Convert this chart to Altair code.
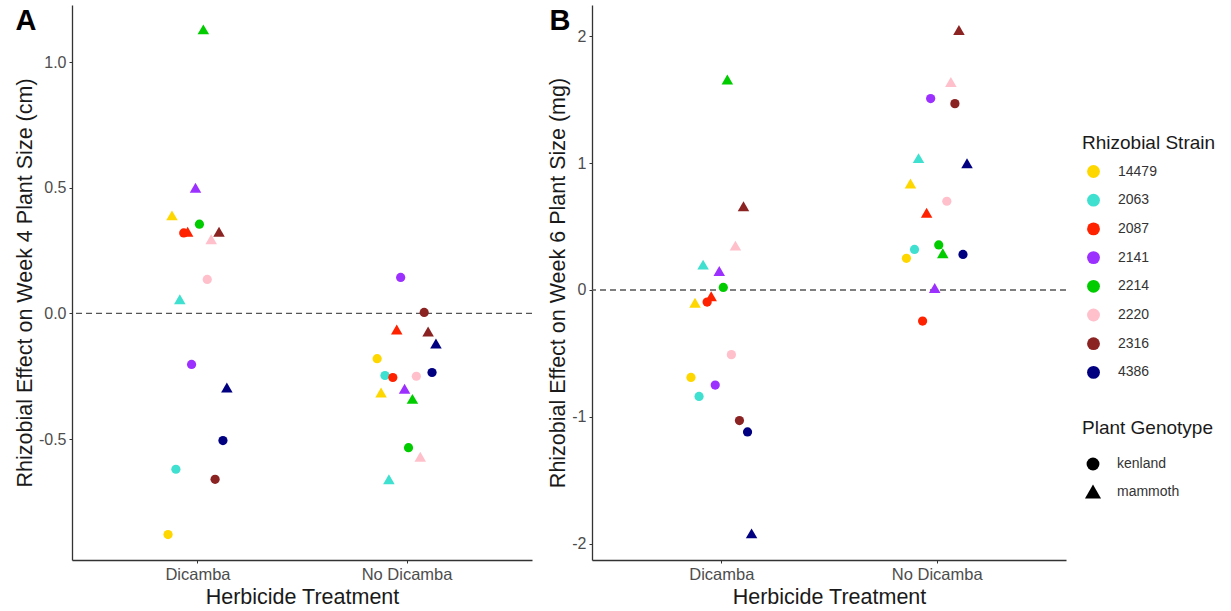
import altair as alt
import pandas as pd

# Rhizobial strains and plant genotypes
strains = ["14479", "2063", "2087", "2141", "2214", "2220", "2316", "4386"]
strain_colors = ["#FFD700", "#40E0D0", "#FF2200", "#9B30FF", "#00CC00", "#FFC0CB", "#8B2323", "#000080"]
genotypes = ["kenland", "mammoth"]
treatments = ["Dicamba", "No Dicamba"]

# Week 4 plant size effect (cm), values in strain order
w4_dicamba_kenland = [-0.88, -0.62, 0.32, -0.203, 0.355, 0.135, -0.66, -0.506]
w4_dicamba_mammoth = [0.39, 0.056, 0.325, 0.50, 1.13, 0.295, 0.325, -0.295]
w4_nodicamba_kenland = [-0.18, -0.247, -0.255, 0.143, -0.534, -0.25, 0.004, -0.235]
w4_nodicamba_mammoth = [-0.315, -0.66, -0.064, -0.30, -0.34, -0.57, -0.072, -0.12]

# Week 6 plant size effect (mg), values in strain order
w6_dicamba_kenland = [-0.69, -0.84, -0.095, -0.75, 0.02, -0.51, -1.03, -1.12]
w6_dicamba_mammoth = [-0.10, 0.20, -0.05, 0.15, 1.66, 0.35, 0.66, -1.92]
w6_nodicamba_kenland = [0.25, 0.32, -0.245, 1.51, 0.355, 0.70, 1.47, 0.28]
w6_nodicamba_mammoth = [0.84, 1.04, 0.61, 0.015, 0.29, 1.64, 2.05, 1.00]

DODGE = 0.3
n_groups = len(strains) * len(genotypes)


def build_frame(series):
    rows = []
    for t_idx, treatment in enumerate(treatments):
        for g_idx, genotype in enumerate(genotypes):
            values = series[(treatment, genotype)]
            for s_idx, strain in enumerate(strains):
                rank = s_idx * len(genotypes) + g_idx
                offset = -DODGE / 2 + DODGE * (rank + 0.5) / n_groups
                rows.append({
                    "treatment": treatment,
                    "strain": strain,
                    "genotype": genotype,
                    "effect": values[s_idx],
                    "xpos": t_idx + 1 + offset,
                })
    return pd.DataFrame(rows)


df4 = build_frame({
    ("Dicamba", "kenland"): w4_dicamba_kenland,
    ("Dicamba", "mammoth"): w4_dicamba_mammoth,
    ("No Dicamba", "kenland"): w4_nodicamba_kenland,
    ("No Dicamba", "mammoth"): w4_nodicamba_mammoth,
})
df6 = build_frame({
    ("Dicamba", "kenland"): w6_dicamba_kenland,
    ("Dicamba", "mammoth"): w6_dicamba_mammoth,
    ("No Dicamba", "kenland"): w6_nodicamba_kenland,
    ("No Dicamba", "mammoth"): w6_nodicamba_mammoth,
})

FONT = "Liberation Sans"
# plot origin of the left panel on the page
ORIGIN_X = 72
ORIGIN_Y = 5

# filled triangle drawn a little larger than the circle
TRIANGLE = "M0,-1.08L1.25,1.08L-1.25,1.08Z"


def panel(df, ytitle, ydomain, yticks, yfmt, letter, letter_x, width):
    x = alt.X(
        "xpos:Q",
        scale=alt.Scale(domain=[0.4, 2.6], nice=False, zero=False),
        axis=alt.Axis(
            values=[1, 2],
            labelExpr="datum.value == 1 ? 'Dicamba' : 'No Dicamba'",
            title="Herbicide Treatment",
        ),
    )
    y = alt.Y(
        "effect:Q",
        scale=alt.Scale(domain=ydomain, nice=False, zero=False),
        axis=alt.Axis(
            values=yticks,
            labelExpr=f"replace(format(datum.value, '{yfmt}'), '\u2212', '-')",
            title=ytitle,
        ),
    )
    points = alt.Chart(df).mark_point(filled=True, opacity=1, strokeWidth=0, size=85).encode(
        x=x,
        y=y,
        color=alt.Color(
            "strain:N",
            scale=alt.Scale(domain=strains, range=strain_colors),
            legend=alt.Legend(
                title="Rhizobial Strain", orient="none",
                legendX=1082 - ORIGIN_X, legendY=134 - ORIGIN_Y,
                symbolType="circle", symbolSize=165, rowPadding=13.7,
                symbolOffset=4, labelOffset=17, titlePadding=11,
            ),
        ),
        shape=alt.Shape(
            "genotype:N",
            scale=alt.Scale(domain=genotypes, range=["circle", TRIANGLE]),
            legend=alt.Legend(
                title="Plant Genotype", orient="none",
                legendX=1082 - ORIGIN_X, legendY=419 - ORIGIN_Y,
                symbolFillColor="black", symbolStrokeWidth=0,
                symbolSize=165, rowPadding=13.5,
                symbolOffset=4, labelOffset=17, titlePadding=19,
            ),
        ),
    )
    zero = alt.Chart(pd.DataFrame({"effect": [0.0]})).mark_rule(
        color="#555555", strokeWidth=1.4, strokeDash=[6, 4]
    ).encode(y="effect:Q")
    tag = alt.Chart(pd.DataFrame({"label": [letter]})).mark_text(
        fontSize=29, fontWeight="bold", font=FONT, color="black",
        align="center", baseline="middle",
    ).encode(x=alt.value(letter_x), y=alt.value(16), text="label:N")
    return alt.layer(zero, points, tag).properties(width=width, height=555)


panel_a = panel(
    df4, "Rhizobial Effect on Week 4 Plant Size (cm)", [-0.981, 1.227],
    [-0.5, 0.0, 0.5, 1.0], ".1f", "A", -46, 460,
)
panel_b = panel(
    df6, "Rhizobial Effect on Week 6 Plant Size (mg)", [-2.13, 2.248],
    [-2, -1, 0, 1, 2], "d", "B", -32, 474,
)

chart = alt.hconcat(panel_a, panel_b, spacing=14).properties(
    padding={"left": 14, "top": ORIGIN_Y, "right": 0, "bottom": 0}
).configure_view(stroke=None).configure_axis(
    grid=False,
    domainColor="#333333",
    domainWidth=1.3,
    tickColor="#333333",
    tickSize=3,
    labelFont=FONT,
    labelFontSize=16.5,
    labelColor="#4D4D4D",
    labelPadding=3,
    titleFont=FONT,
    titleFontSize=21.5,
    titleFontWeight="normal",
    titleColor="#1A1A1A",
    titlePadding=4,
).configure_axisY(
    labelFontSize=16,
    titlePadding=2,
).configure_legend(
    titleFont=FONT,
    titleFontSize=19,
    titleFontWeight="normal",
    titleColor="#1A1A1A",
    labelFont=FONT,
    labelFontSize=14,
    labelColor="#333333",
)

chart.save("out.html", embed_options={"renderer": "svg", "actions": False})
